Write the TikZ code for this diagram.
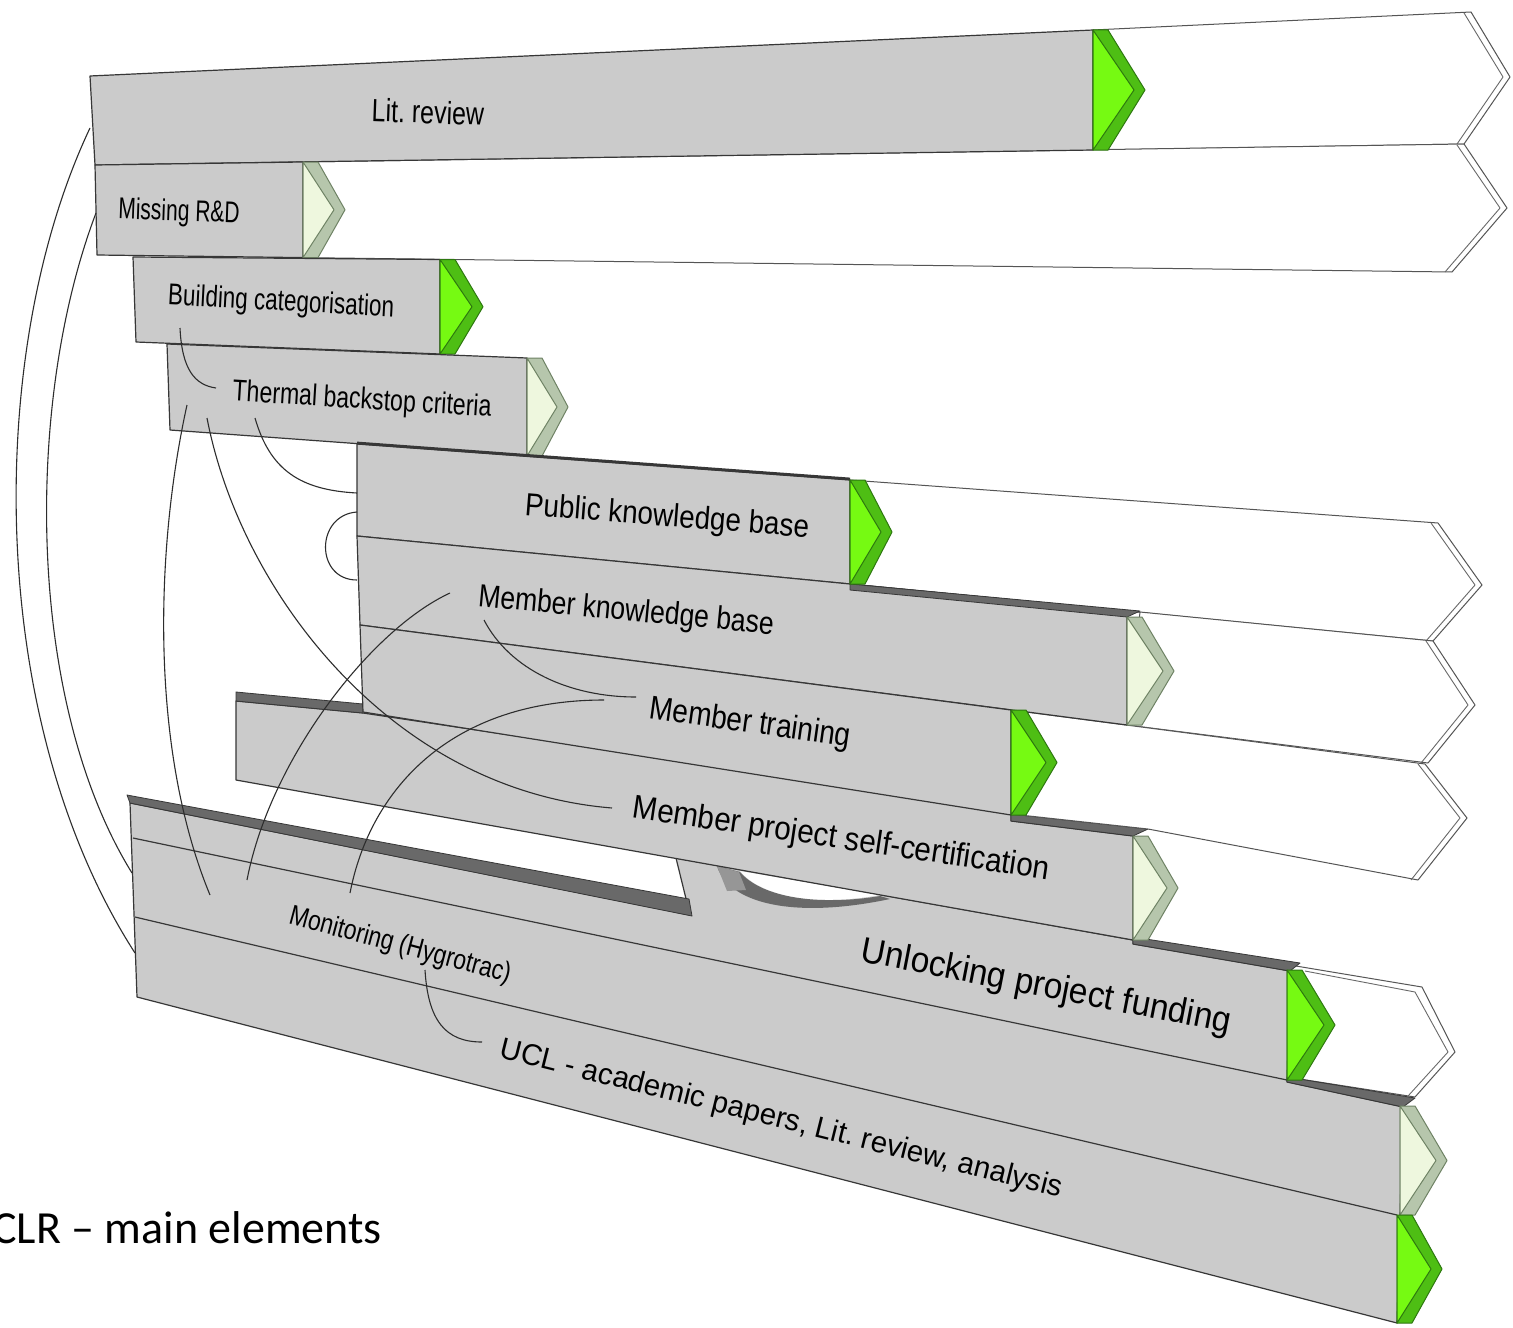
\documentclass[tikz,border=0pt]{standalone}
\usepackage{fontspec}
\setmainfont{Liberation Sans}
\newfontfamily\carlito{Carlito}
\frenchspacing
\definecolor{barfill}{RGB}{203,203,203}
\definecolor{edgec}{RGB}{55,55,55}
\definecolor{stripc}{RGB}{105,105,105}
\definecolor{gface}{RGB}{118,250,18}
\definecolor{gband}{RGB}{78,190,20}
\definecolor{gline}{RGB}{45,120,15}
\definecolor{lface}{RGB}{238,247,222}
\definecolor{lband}{RGB}{182,198,172}
\definecolor{lline}{RGB}{110,130,100}
\definecolor{cline}{RGB}{45,45,45}
\definecolor{capc}{RGB}{150,150,150}
\newcommand\mychev[7]{%
  \pgfmathsetmacro\chm{(#2+#3)/2}%
  \pgfmathsetmacro\chb{#1+15}%
  \pgfmathsetmacro\cht{#4-11}%
  \filldraw[fill=#6,draw=#7,line width=0.5pt,line join=round] (#1,#2) -- (\chb,#2) -- (#4,\chm) -- (\chb,#3) -- (#1,#3) -- cycle;
  \filldraw[fill=#5,draw=#7,line width=0.5pt,line join=round] (#1,#2) -- (\cht,\chm) -- (#1,#3) -- cycle;
}
\tikzset{
  face/.style={fill=barfill,draw=edgec,line width=0.6pt,line join=round},
  ext/.style={fill=white,draw=edgec!85,line width=0.5pt,line join=round},
  extin/.style={draw=edgec!75,line width=0.45pt,line join=round},
  stripe/.style={fill=stripc,draw=edgec,line width=0.4pt,line join=round},
  sep/.style={draw=edgec,line width=0.6pt},
  conn/.style={draw=cline,line width=0.55pt},
  lab/.style={inner sep=0pt,text=black}
}
\begin{document}
\begin{tikzpicture}[x=0.5pt,y=-0.5pt]
\useasboundingbox (0,0) rectangle (1513,1327);
\fill[white] (0,0) rectangle (1513,1327);

% ---------- top bars ----------
\draw[ext] (1093,30) -- (1471,12) -- (1510,77) -- (1464,144) -- (1093,150) -- cycle;
\draw[extin] (1464,13) -- (1503,77) -- (1457,144);
\draw[ext] (303,162) -- (1464,144) -- (1507,208) -- (1452,272) -- (303,257.6) -- cycle;
\draw[extin] (1457,145) -- (1500,208) -- (1445,272);

\draw[face] (90,76) -- (1093,30) -- (1093,150) -- (95,165) -- cycle;
\mychev{1093}{30}{150}{1145}{gface}{gband}{gline}
\draw[face] (95,165) -- (303,162) -- (303,257.6) -- (97,255) -- cycle;
\mychev{303}{162}{257.6}{345}{lface}{lband}{lline}
\draw[face] (133,257) -- (440,259.5) -- (440,354) -- (136,342) -- cycle;
\mychev{440}{259.5}{354}{483}{gface}{gband}{gline}
\draw[face] (167,344) -- (527,358) -- (527,456) -- (170,430) -- cycle;
\mychev{527}{358}{456}{568}{lface}{lband}{lline}

% ---------- bottom block ----------
\draw[ext] (1290,965) -- (1422,987) -- (1455,1052) -- (1415,1097) -- (1287,1077) -- cycle;
\draw[extin] (1305,971) -- (1415,992) -- (1448,1052) -- (1408,1096);
\draw[face] (130,803) -- (690,915) -- (676,858) -- (1133,940) -- (1133,944) -- (1290,971) -- (1287,1082) -- (1403,1107) -- (1400,1215) -- (1397,1323) -- (137,997) -- cycle;
\draw[stripe] (127,795) -- (689,899) -- (692,916) -- (130,803) -- cycle;
\draw[stripe] (1133,937) -- (1300,963) -- (1290,971) -- (1133,944) -- cycle;
\draw[stripe] (1287,1077) -- (1415,1098) -- (1403,1107) -- (1287,1082) -- cycle;
\draw[sep] (133,838) -- (1287,1080);
\draw[sep] (135,917) -- (1397,1215);
\mychev{1287}{970}{1080}{1335}{gface}{gband}{gline}
\mychev{1400}{1106}{1215}{1447}{lface}{lband}{lline}
\mychev{1397}{1215}{1323}{1442}{gface}{gband}{gline}
% tunnel
\fill[stripc] (717,866) .. controls (728,902) and (790,920) .. (890,899) -- (880,896) .. controls (820,906) and (762,898) .. (740,872) -- cycle;
\fill[white] (740,871) .. controls (762,898) and (820,906) .. (880,895) -- cycle;
\fill[capc] (717,866) -- (739,872) -- (746,890) -- (727,891) -- cycle;

% ---------- member project self-certification ----------
\draw[face] (236,701) -- (363,713) -- (1011,810) -- (1011,821) -- (1133,836) -- (1133,940) -- (236,780) -- cycle;
\draw[stripe] (236,692) -- (363,704) -- (363,713) -- (236,701) -- cycle;
\draw[stripe] (1011,814) -- (1148,829) -- (1133,836) -- (1011,821) -- cycle;
\mychev{1133}{836}{940}{1178}{lface}{lband}{lline}

% ---------- knowledge block ----------
\draw[ext] (850,480) -- (1438,523) -- (1482,585) -- (1433,641) -- (850,584) -- cycle;
\draw[extin] (1431,523) -- (1475,585) -- (1426,641);
\draw[ext] (1140,612) -- (1433,641) -- (1475,705) -- (1428,763) -- (1127,725) -- cycle;
\draw[extin] (1426,641) -- (1468,705) -- (1421,763);
\draw[ext] (1011,710) -- (1425,764) -- (1467,818) -- (1418,880) -- (1148,829) -- (1011,814) -- cycle;
\draw[extin] (1418,764) -- (1460,818) -- (1411,880);

\draw[face] (357,444) -- (850,480) -- (850,584) -- (357,536) -- cycle;
\draw[face] (357,536) -- (850,584) -- (1127,611) -- (1127,725) -- (360,625) -- cycle;
\draw[face] (360,625) -- (1011,710) -- (1011,815) -- (363,712) -- cycle;
\draw[edgec,line width=1.4pt] (357,443) -- (850,479);
\draw[stripe] (850,584) -- (1140,611) -- (1127,617) -- (850,590) -- cycle;
\mychev{850}{480}{584}{892}{gface}{gband}{gline}
\mychev{1127}{617}{725}{1174}{lface}{lband}{lline}
\mychev{1011}{710}{815}{1057}{gface}{gband}{gline}

% ---------- labels ----------
\node[lab,font=\fontsize{16}{19}\selectfont,rotate=-2,xscale=0.78] (t1) at (428,112) {Lit. review};
\node[lab,font=\fontsize{15}{18}\selectfont,rotate=-2,xscale=0.7] (t2) at (179,213) {Missing R\&D};
\node[lab,font=\fontsize{15}{18}\selectfont,rotate=-3,xscale=0.75] (t3) at (281,303) {Building categorisation};
\node[lab,font=\fontsize{15}{18}\selectfont,rotate=-3.5,xscale=0.77] (t4) at (362,401) {Thermal backstop criteria};
\node[lab,font=\fontsize{16}{19}\selectfont,rotate=-4.5,xscale=0.87] (t5) at (667,518) {Public knowledge base};
\node[lab,font=\fontsize{16}{19}\selectfont,rotate=-5.5,xscale=0.83] (t6) at (626,612) {Member knowledge base};
\node[lab,font=\fontsize{16.5}{19}\selectfont,rotate=-8,xscale=0.85] (t7) at (750,724) {Member training};
\node[lab,font=\fontsize{16.5}{19}\selectfont,rotate=-8.5,xscale=0.9] (t8) at (841,840) {Member project self-certification};
\node[lab,font=\fontsize{18}{21}\selectfont,rotate=-11,xscale=0.93] (t9) at (1046,988) {Unlocking project funding};
\node[lab,font=\fontsize{14}{17}\selectfont,rotate=-15,xscale=0.82] (t10) at (400,946) {Monitoring (Hygrotrac)};
\node[lab,font=\fontsize{15}{18}\selectfont,rotate=-14,xscale=0.98] (t11) at (781,1120) {UCL - academic papers, Lit. review, analysis};
\node[lab,font=\carlito\fontsize{23}{27}\selectfont,anchor=base west] (cap) at (-8,1243) {CLR – main elements};

% ---------- connectors ----------
\coordinate (a1) at (90,128);   \coordinate (b1) at (135,953);
\coordinate (a2) at (96,213);   \coordinate (b2) at (132,873);
\coordinate (a3) at (180,328);  \coordinate (b3) at (216,388);
\coordinate (a4) at (187,405);  \coordinate (b4) at (210,895);
\coordinate (a5) at (207,418);  \coordinate (b5) at (612,808);
\coordinate (a6) at (255,418);  \coordinate (b6) at (357,493);
\coordinate (a7) at (357,512);  \coordinate (b7) at (357,580);
\coordinate (a8) at (450,593);  \coordinate (b8) at (247,880);
\coordinate (a9) at (484,620);  \coordinate (b9) at (636,697);
\coordinate (a10) at (604,700); \coordinate (b10) at (350,893);
\coordinate (a11) at (425,970); \coordinate (b11) at (482,1042);
\draw[conn] (a1) .. controls (-15,350) and (-15,720) .. (b1);
\draw[conn] (a2) .. controls (25,400) and (25,700) .. (b2);
\draw[conn] (a3) .. controls (182,370) and (195,385) .. (b3);
\draw[conn] (a4) .. controls (155,550) and (150,750) .. (b4);
\draw[conn] (a5) .. controls (240,590) and (390,790) .. (b5);
\draw[conn] (a6) .. controls (270,470) and (300,490) .. (b6);
\draw[conn] (a7) .. controls (315,515) and (315,580) .. (b7);
\draw[conn] (a8) .. controls (370,630) and (270,760) .. (b8);
\draw[conn] (a9) .. controls (510,670) and (570,697) .. (b9);
\draw[conn] (a10) .. controls (450,700) and (370,790) .. (b10);
\draw[conn] (a11) .. controls (428,1020) and (445,1042) .. (b11);
\end{tikzpicture}
\end{document}
